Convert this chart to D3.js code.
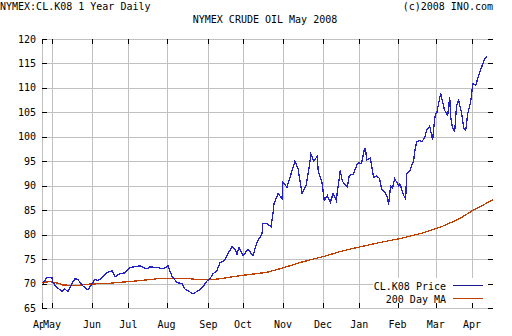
<!DOCTYPE html>
<html><head><meta charset="utf-8">
<script src="https://cdn.jsdelivr.net/npm/d3@7"></script>
<style>
body{margin:0;background:#fff}
svg{display:block}
text{font-family:"DejaVu Sans Mono",monospace;font-size:10px;fill:#000}
</style>
</head><body>
<svg id="chart" width="512" height="336"></svg>
<script>
// ---- data (trading-day index, May 1 2007 = 0) ----
const yTickValues = [65,70,75,80,85,90,95,100,105,110,115,120];
const monthLabels = ["Apr","May","Jun","Jul","Aug","Sep","Oct","Nov","Dec","Jan","Feb","Mar","Apr"];
const monthDays   = [-5.5,0,22,42,63,86,105,127,149,169,190,211,231];
const priceDays = [-5,-3,0,0.5,2.7,5.5,7.1,8.8,11,12.6,14.3,17,19.8,22,23.6,25.3,27.5,30.2,33,34.6,37.4,40.1,42.9,48.4,52.2,53.9,57.7,61,63.8,66,68.7,71.5,73.1,77.5,80.3,83,85.2,86.9,88.5,90.7,92.4,95.1,96.8,99,100.6,101.7,102.8,105,107.8,110.5,112.7,115.5,116,118.2,120.4,121.5,122.1,124.3,126.5,127,129.2,132,133.6,135.3,137.5,139.7,141.3,142.4,144,145.8,146.4,148.6,149.7,151.4,153,154.6,156.3,158.5,159.6,160.7,162.4,163.5,165.7,167.9,168.5,170.2,171.8,172.4,173,175.1,176.8,178.4,180.1,181.2,182.9,184.5,185.1,186.2,187.3,188.4,190.6,191.2,191.7,193.4,194.5,195,196.7,198.9,199.4,200.5,202.2,203.3,204.9,206,207.7,209.3,210.4,211,211.5,212.6,213.7,214.8,215.9,217.6,218.7,219.2,220.3,220.9,221.4,222.5,223.6,225.3,226.4,227.5,228.6,230.2,230.8,231.3,233,234.6,236.3,237.4,239,240.1,241.2,241.7];
const priceVals = [70.0,71.2,71.2,70.2,69.2,68.4,68.9,68.3,70.0,71.0,70.8,69.5,68.7,70.0,70.8,70.6,71.2,72.2,72.6,71.4,72.0,72.2,73.3,73.6,73.0,73.4,73.3,73.0,73.6,71.5,70.2,70.0,68.9,67.9,68.5,69.3,70.5,71.0,72.0,72.6,74.3,74.8,76.2,77.5,77.0,76.0,77.4,75.7,77.0,75.7,78.4,80.2,82.3,82.3,81.6,84.3,86.3,88.4,87.4,90.7,89.7,93.1,95.0,93.5,88.4,90.0,93.5,96.5,95.0,96.0,93.0,90.4,87.0,88.0,86.6,88.4,87.0,93.1,91.0,90.4,89.8,92.1,92.4,94.5,94.7,94.5,97.6,97.6,95.2,95.7,91.7,92.0,91.5,89.4,88.7,87.6,86.1,90.0,89.5,91.5,90.0,90.3,90.0,88.0,87.3,92.5,93.0,95.2,96.9,98.9,99.3,99.0,99.8,101.3,102.2,99.3,103.7,104.7,104.7,106.8,108.9,107.1,105.4,104.4,108.2,104.1,101.7,101.5,101.0,106.5,107.5,104.7,101.7,101.3,104.7,107.1,108.9,110.9,110.5,112.6,114.3,115.5,116.5];
const maDays = [-5.5,-1.1,4.4,6,13.7,20.9,30.2,39,48.4,61,72,81.4,90.7,103.4,118.2,127,136.4,149,160,169.4,180.4,191.4,202.4,213.4,224.4,231.5,242.5];
const maVals = [70.2,70.4,70.0,69.7,69.6,69.9,70.0,70.3,70.6,71.1,71.1,70.8,70.9,71.6,72.3,73.2,74.3,75.5,76.7,77.5,78.4,79.2,80.2,81.5,83.3,85.0,87.1];
const seriesNames = ["CL.K08 Price","200 Day MA"];
const seriesColors = ["#2222c8","#c04000"];
const legendColors = ["#1a1a90","#c04000"];

const svg = d3.select("#chart");
const L = 42, R = 493, T = 39, B = 308;
const x = d3.scaleLinear().domain([-5.5, 242.5]).range([L, R]);
const y = d3.scaleLinear().domain([65, 120]).range([B, T]);

// header texts
svg.append("text").attr("x", 0).attr("y", 10).text("NYMEX:CL.K08 1 Year Daily");
svg.append("text").attr("x", 493).attr("y", 10).attr("text-anchor", "end").text("(c)2008 INO.com");
svg.append("text").attr("x", 265).attr("y", 23).attr("text-anchor", "middle").text("NYMEX CRUDE OIL May 2008");

// grid
const grid = svg.append("g").attr("shape-rendering", "crispEdges");
grid.selectAll("line.h").data(yTickValues).join("line")
  .attr("x1", L).attr("x2", R).attr("y1", d => Math.round(y(d)) + 0.5).attr("y2", d => Math.round(y(d)) + 0.5)
  .attr("stroke", "#c0c0c0");
grid.selectAll("line.v").data(monthDays).join("line")
  .attr("x1", d => Math.round(x(d)) + 0.5).attr("x2", d => Math.round(x(d)) + 0.5)
  .attr("y1", T).attr("y2", B).attr("stroke", "#c0c0c0");

// ticks (inward, black)
const tk = svg.append("g").attr("shape-rendering", "crispEdges").attr("stroke", "#000");
yTickValues.forEach(v => {
  const yy = Math.round(y(v)) + 0.5;
  tk.append("line").attr("x1", L).attr("x2", L + 5).attr("y1", yy).attr("y2", yy);
  tk.append("line").attr("x1", R - 5).attr("x2", R).attr("y1", yy).attr("y2", yy);
});
monthDays.forEach(d => {
  const xx = Math.round(x(d)) + 0.5;
  tk.append("line").attr("x1", xx).attr("x2", xx).attr("y1", B - 5).attr("y2", B);
  tk.append("line").attr("x1", xx).attr("x2", xx).attr("y1", T).attr("y2", T + 5);
});

// y labels
svg.selectAll("text.yl").data(yTickValues).join("text")
  .attr("x", 36).attr("y", d => y(d) + 3.5).attr("text-anchor", "end").text(d => d);

// x labels with white backing
const xl = svg.append("g");
monthLabels.forEach((m, i) => {
  const cx = x(monthDays[i]);
  xl.append("rect").attr("x", cx - 9).attr("y", 318).attr("width", 18).attr("height", 12).attr("fill", "#fff");
  xl.append("text").attr("x", cx).attr("y", 328).attr("text-anchor", "middle").text(m);
});

// lines
const line = d3.line().x(d => x(d[0])).y(d => y(d[1]));
svg.append("path").datum(maDays.map((d, i) => [d, maVals[i]]))
  .attr("d", line).attr("fill", "none").attr("stroke", seriesColors[1]).attr("stroke-width", 1.3)
  .attr("shape-rendering", "crispEdges");
svg.append("path").datum(priceDays.map((d, i) => [d, priceVals[i]]))
  .attr("d", line).attr("fill", "none").attr("stroke", seriesColors[0]).attr("stroke-width", 1.3)
  .attr("shape-rendering", "crispEdges");

// legend
const lg = svg.append("g");
lg.append("rect").attr("x", 373).attr("y", 278).attr("width", 115).attr("height", 25).attr("fill", "#fff");
seriesNames.forEach((n, i) => {
  const yy = 285 + i * 13;
  lg.append("text").attr("x", 446).attr("y", yy + 4.5).attr("text-anchor", "end").text(n);
  lg.append("line").attr("x1", 453).attr("x2", 483).attr("y1", yy + 0.5).attr("y2", yy + 0.5)
    .attr("stroke", legendColors[i]).attr("stroke-width", 1.2).attr("shape-rendering", "crispEdges");
});
</script>
</body></html>
